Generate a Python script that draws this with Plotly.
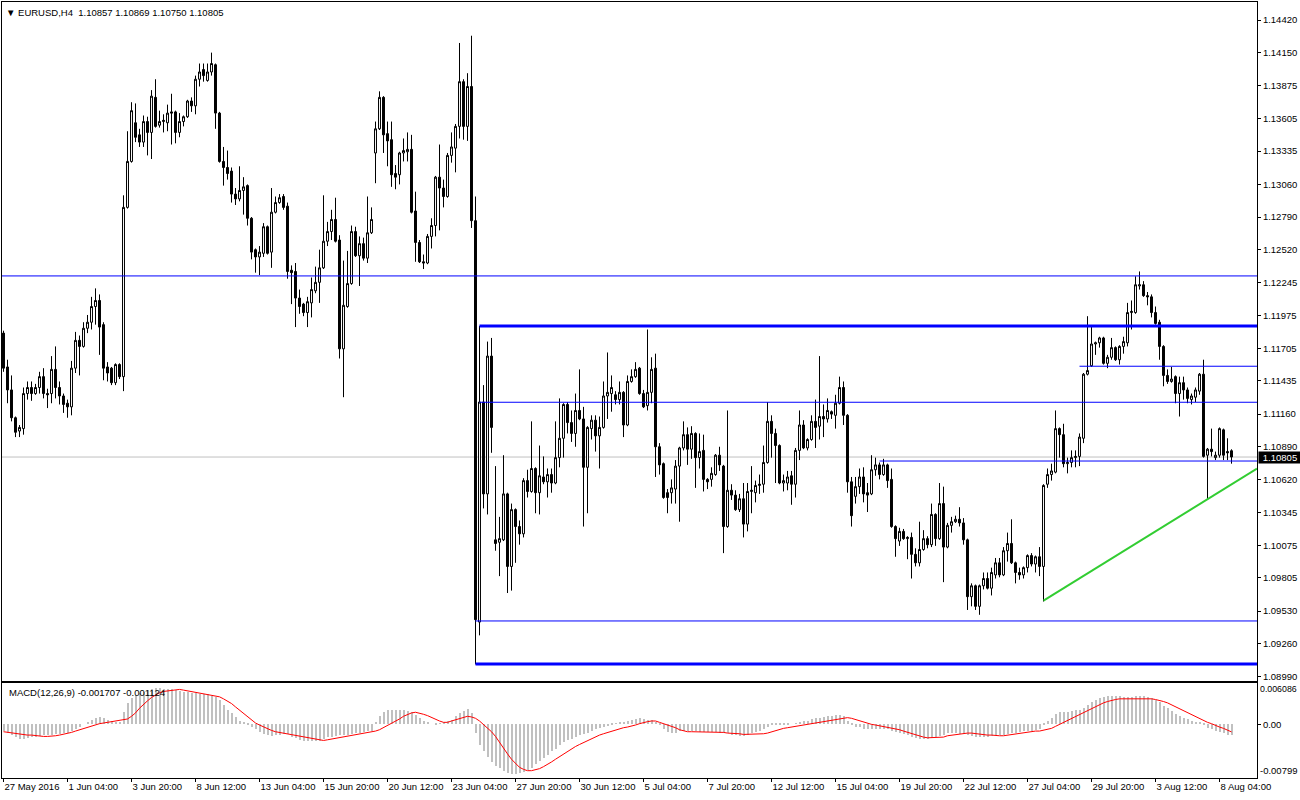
import plotly.graph_objects as go

# ---------------- data (EURUSD, H4) ----------------
opens = [
    1.1183, 1.1155, 1.1136, 1.1113, 1.1102, 1.1104, 1.1133, 1.1138, 1.1133, 1.1138,
    1.1147, 1.1133, 1.1133, 1.1153, 1.1138, 1.1131, 1.1125, 1.1122, 1.1154, 1.1177,
    1.1172, 1.1187, 1.1192, 1.1205, 1.1210, 1.1190, 1.1155, 1.1154, 1.1142, 1.1157,
    1.1147, 1.1287, 1.1325, 1.1357, 1.1347, 1.1341, 1.1358, 1.1349, 1.1378, 1.1355,
    1.1358, 1.1357, 1.1366, 1.1366, 1.1349, 1.1358, 1.1362, 1.1375, 1.1371, 1.1393,
    1.1401, 1.1392, 1.1399, 1.1405, 1.1365, 1.1325, 1.1320, 1.1317, 1.1298, 1.1294,
    1.1301, 1.1305, 1.1278, 1.1252, 1.1246, 1.1249, 1.1271, 1.1250, 1.1283, 1.1291,
    1.1296, 1.1288, 1.1235, 1.1234, 1.1212, 1.1207, 1.1200, 1.1208, 1.1218, 1.1225,
    1.1237, 1.1259, 1.1267, 1.1277, 1.1260, 1.1170, 1.1205, 1.1224, 1.1267, 1.1247,
    1.1257, 1.1245, 1.1266, 1.1332, 1.1352, 1.1378, 1.1348, 1.1343, 1.1315, 1.1314,
    1.1332, 1.1333, 1.1335, 1.1284, 1.1258, 1.1242, 1.1241, 1.1263, 1.1272, 1.1312,
    1.1303, 1.1296, 1.1330, 1.1336, 1.1354, 1.1391, 1.1354, 1.1387, 1.1276, 1.0944,
    1.1126, 1.1050, 1.1164, 1.1012, 1.1010, 1.1012, 1.1050, 1.0990, 1.1037, 1.1023,
    1.1017, 1.1061, 1.1052, 1.1071, 1.1051, 1.1064, 1.1060, 1.1066, 1.1059, 1.1080,
    1.1096, 1.1124, 1.1109, 1.1100, 1.1119, 1.1112, 1.1072, 1.1104, 1.1111, 1.1098,
    1.1105, 1.1131, 1.1133, 1.1132, 1.1128, 1.1134, 1.1107, 1.1143, 1.1147, 1.1154,
    1.1133, 1.1123, 1.1134, 1.1154, 1.1089, 1.1075, 1.1051, 1.1051, 1.1054, 1.1073,
    1.1088, 1.1099, 1.1087, 1.1100, 1.1080, 1.1086, 1.1062, 1.1062, 1.1066, 1.1082,
    1.1073, 1.1023, 1.1053, 1.1049, 1.1037, 1.1046, 1.1025, 1.1052, 1.1051, 1.1057,
    1.1058, 1.1076, 1.1110, 1.1100, 1.1090, 1.1059, 1.1059, 1.1065, 1.1058, 1.1086,
    1.1107, 1.1088, 1.1095, 1.1110, 1.1106, 1.1114, 1.1112, 1.1118, 1.1115, 1.1125,
    1.1138, 1.1115, 1.1060, 1.1048, 1.1056, 1.1064, 1.1051, 1.1050, 1.1070, 1.1074,
    1.1066, 1.1074, 1.1062, 1.1023, 1.1011, 1.1019, 1.1013, 1.1014, 1.1000, 1.0993,
    1.1004, 1.1013, 1.1008, 1.1033, 1.1013, 1.1042, 1.1006, 1.1024, 1.1027, 1.1029,
    1.1026, 1.1012, 1.0965, 1.0974, 1.0957, 1.0974, 1.0980, 1.0972, 1.0983, 1.0993,
    1.0983, 1.1003, 1.1009, 1.0993, 1.0985, 1.0983, 1.0989, 1.0999, 1.0992, 1.0998,
    1.0990, 1.1058, 1.1066, 1.1068, 1.1104, 1.1099, 1.1075, 1.1076, 1.1080, 1.1081,
    1.1096, 1.1149, 1.1156, 1.1174, 1.1175, 1.1179, 1.1158, 1.1163, 1.1171, 1.1161,
    1.1172, 1.1175, 1.1200, 1.1200, 1.1222, 1.1223, 1.1214, 1.1213, 1.1200, 1.1192,
    1.1172, 1.1148, 1.1143, 1.1147, 1.1133, 1.1142, 1.1136, 1.1128, 1.1130, 1.1135,
    1.1149, 1.1082, 1.1087, 1.1080, 1.1082, 1.1103, 1.1085, 1.10857,
]
highs = [
    1.1185, 1.1161, 1.1148, 1.1114, 1.1107, 1.1138, 1.1143, 1.1143, 1.1141, 1.1151,
    1.1154, 1.1137, 1.1164, 1.1172, 1.1143, 1.1133, 1.1128, 1.1160, 1.1184, 1.1181,
    1.1192, 1.1198, 1.1213, 1.1220, 1.1215, 1.1192, 1.1159, 1.1155, 1.1158, 1.1158,
    1.1297, 1.1350, 1.1374, 1.1373, 1.1352, 1.1363, 1.1362, 1.1384, 1.1393, 1.1367,
    1.1364, 1.1372, 1.1381, 1.1367, 1.1365, 1.1363, 1.1376, 1.1378, 1.1396, 1.1406,
    1.1406, 1.1406, 1.1415, 1.1406, 1.1366, 1.1337, 1.1334, 1.1320, 1.1303, 1.1321,
    1.1312, 1.1306, 1.1279, 1.1253, 1.1255, 1.1274, 1.1272, 1.1303, 1.1296, 1.1298,
    1.1298, 1.1291, 1.1239, 1.1241, 1.1219, 1.1208, 1.1213, 1.1229, 1.1238, 1.1252,
    1.1297, 1.1275, 1.1285, 1.1295, 1.1264, 1.1243, 1.1251, 1.1272, 1.1271, 1.1263,
    1.1262, 1.1296, 1.1287, 1.1358, 1.1383, 1.1379, 1.1358, 1.1358, 1.1322, 1.1333,
    1.1344, 1.1349, 1.1347, 1.1300, 1.1260, 1.1248, 1.1265, 1.1278, 1.1313, 1.1339,
    1.1310, 1.1332, 1.1349, 1.1356, 1.1423, 1.1393, 1.1398, 1.1429, 1.1296, 1.1189,
    1.1140, 1.1176, 1.1179, 1.1073, 1.1031, 1.1082, 1.1051, 1.1042, 1.1038, 1.1028,
    1.1063, 1.1070, 1.1110, 1.1072, 1.1090, 1.1081, 1.1071, 1.1071, 1.1110, 1.1129,
    1.1125, 1.1126, 1.1119, 1.1133, 1.1153, 1.1122, 1.1106, 1.1115, 1.1115, 1.1114,
    1.1143, 1.1167, 1.1148, 1.1135, 1.1143, 1.1135, 1.1148, 1.1153, 1.1159, 1.1155,
    1.1136, 1.1186, 1.1163, 1.1166, 1.1092, 1.1076, 1.1054, 1.1062, 1.1078, 1.1089,
    1.1110, 1.1105, 1.1106, 1.1101, 1.1100, 1.1099, 1.1063, 1.1072, 1.1083, 1.1089,
    1.1074, 1.1119, 1.1058, 1.1053, 1.1050, 1.1059, 1.1059, 1.1073, 1.1061, 1.1066,
    1.1090, 1.1126, 1.1115, 1.1104, 1.1091, 1.1066, 1.1069, 1.1069, 1.1088, 1.1119,
    1.1111, 1.1096, 1.1115, 1.1128, 1.1164, 1.1124, 1.1129, 1.1119, 1.1132, 1.1147,
    1.1143, 1.1116, 1.1064, 1.1064, 1.1071, 1.1072, 1.1059, 1.1082, 1.1080, 1.1076,
    1.1079, 1.1075, 1.1071, 1.1024, 1.1022, 1.1021, 1.1015, 1.1018, 1.1005, 1.1027,
    1.1020, 1.1015, 1.1042, 1.1034, 1.1059, 1.1056, 1.1026, 1.1031, 1.1032, 1.1039,
    1.1030, 1.1013, 1.0976, 1.0975, 1.0975, 1.0985, 1.0985, 1.0989, 1.0997, 1.0997,
    1.1006, 1.1018, 1.1029, 1.0994, 1.0989, 1.0990, 1.1000, 1.1001, 1.0999, 1.1006,
    1.1058, 1.1071, 1.1075, 1.1119, 1.1105, 1.1108, 1.1080, 1.1086, 1.1086, 1.1100,
    1.1150, 1.1197, 1.1188, 1.1176, 1.1180, 1.1180, 1.1165, 1.1179, 1.1172, 1.1173,
    1.1180, 1.1208, 1.1210, 1.1230, 1.1234, 1.1226, 1.1217, 1.1215, 1.1205, 1.1194,
    1.1173, 1.1153, 1.1155, 1.1148, 1.1147, 1.1147, 1.1138, 1.1133, 1.1138, 1.1150,
    1.1161, 1.1088, 1.1104, 1.1085, 1.1105, 1.1104, 1.1096, 1.10869,
]
lows = [
    1.1151, 1.1125, 1.1110, 1.1097, 1.1097, 1.1099, 1.1128, 1.1127, 1.1132, 1.1133,
    1.1129, 1.1121, 1.1125, 1.1129, 1.1124, 1.1117, 1.1113, 1.1115, 1.1150, 1.1148,
    1.1171, 1.1183, 1.1186, 1.1190, 1.1165, 1.1144, 1.1143, 1.1140, 1.1140, 1.1145,
    1.1135, 1.1286, 1.1324, 1.1341, 1.1337, 1.1337, 1.1330, 1.1327, 1.1353, 1.1353,
    1.1349, 1.1350, 1.1339, 1.1340, 1.1345, 1.1354, 1.1361, 1.1366, 1.1364, 1.1387,
    1.1391, 1.1391, 1.1396, 1.1352, 1.1324, 1.1305, 1.1310, 1.1291, 1.1289, 1.1292,
    1.1281, 1.1272, 1.1244, 1.1233, 1.1231, 1.1246, 1.1248, 1.1237, 1.1282, 1.1290,
    1.1285, 1.1228, 1.1207, 1.1188, 1.1199, 1.1197, 1.1188, 1.1196, 1.1216, 1.1208,
    1.1236, 1.1255, 1.1260, 1.1258, 1.1162, 1.1130, 1.1204, 1.1223, 1.1246, 1.1222,
    1.1243, 1.1241, 1.1265, 1.1307, 1.1351, 1.1332, 1.1321, 1.1304, 1.1302, 1.1306,
    1.1325, 1.1325, 1.1282, 1.1242, 1.1241, 1.1236, 1.1240, 1.1253, 1.1263, 1.1268,
    1.1287, 1.1295, 1.1324, 1.1316, 1.1344, 1.1343, 1.1342, 1.1270, 1.0909, 1.0933,
    1.1038, 1.1033, 1.1084, 1.1003, 1.0982, 1.1011, 1.0968, 1.0970, 1.0993, 1.1008,
    1.1014, 1.1047, 1.1051, 1.1034, 1.1033, 1.1058, 1.1047, 1.1051, 1.1058, 1.1072,
    1.1080, 1.1100, 1.1093, 1.1089, 1.1111, 1.1023, 1.1034, 1.1095, 1.1085, 1.1071,
    1.1104, 1.1112, 1.1118, 1.1124, 1.1124, 1.1097, 1.1106, 1.1142, 1.1146, 1.1132,
    1.1121, 1.1119, 1.1125, 1.1064, 1.1066, 1.1046, 1.1034, 1.1042, 1.1042, 1.1027,
    1.1086, 1.1074, 1.1079, 1.1055, 1.1071, 1.1052, 1.1054, 1.1056, 1.1065, 1.1069,
    1.1001, 1.1022, 1.1045, 1.1036, 1.1035, 1.1014, 1.1019, 1.1034, 1.1043, 1.1050,
    1.1051, 1.1075, 1.1080, 1.1059, 1.1058, 1.1052, 1.1053, 1.1041, 1.1047, 1.1078,
    1.1087, 1.1086, 1.1094, 1.1088, 1.1095, 1.1097, 1.1109, 1.1112, 1.1104, 1.1124,
    1.1107, 1.1051, 1.1023, 1.1042, 1.1050, 1.1043, 1.1035, 1.1049, 1.1065, 1.1062,
    1.1065, 1.1055, 1.1022, 1.0998, 1.1007, 1.1012, 1.0996, 1.0980, 1.0990, 1.0990,
    1.1003, 1.1005, 1.1006, 1.1007, 1.1012, 1.0977, 1.1005, 1.1018, 1.1026, 1.1023,
    1.1008, 1.0954, 1.0957, 1.0954, 1.0950, 1.0971, 1.0971, 1.0966, 1.0980, 1.0981,
    1.0982, 1.0994, 1.0992, 1.0976, 1.0979, 1.0980, 1.0985, 1.0990, 1.0985, 1.0982,
    1.0961, 1.1055, 1.1061, 1.1067, 1.1080, 1.1072, 1.1067, 1.1072, 1.1072, 1.1073,
    1.1092, 1.1148, 1.1155, 1.1165, 1.1171, 1.1157, 1.1154, 1.1161, 1.1160, 1.1157,
    1.1166, 1.1172, 1.1186, 1.1199, 1.1219, 1.1213, 1.1206, 1.1196, 1.1190, 1.1161,
    1.1139, 1.1141, 1.1142, 1.1125, 1.1114, 1.1128, 1.1125, 1.1124, 1.1126, 1.1132,
    1.1080, 1.1045, 1.1081, 1.1078, 1.1080, 1.1078, 1.1078, 1.10750,
]
closes = [
    1.1154, 1.1136, 1.1113, 1.1101, 1.1105, 1.1133, 1.1138, 1.1133, 1.1138, 1.1147,
    1.1133, 1.1132, 1.1153, 1.1138, 1.1131, 1.1124, 1.1122, 1.1154, 1.1177, 1.1172,
    1.1187, 1.1192, 1.1205, 1.1210, 1.1188, 1.1154, 1.1150, 1.1142, 1.1157, 1.1147,
    1.1287, 1.1325, 1.1367, 1.1345, 1.1341, 1.1358, 1.1349, 1.1379, 1.1354, 1.1358,
    1.1359, 1.1365, 1.1365, 1.1349, 1.1358, 1.1362, 1.1375, 1.1371, 1.1393, 1.1399,
    1.1396, 1.1399, 1.1406, 1.1365, 1.1325, 1.1320, 1.1315, 1.1298, 1.1294, 1.1301,
    1.1304, 1.1278, 1.1250, 1.1246, 1.1250, 1.1271, 1.1249, 1.1283, 1.1291, 1.1295,
    1.1287, 1.1234, 1.1233, 1.1212, 1.1205, 1.1200, 1.1209, 1.1219, 1.1225, 1.1237,
    1.1259, 1.1267, 1.1277, 1.1259, 1.1170, 1.1206, 1.1224, 1.1267, 1.1247, 1.1257,
    1.1245, 1.1266, 1.1277, 1.1352, 1.1378, 1.1347, 1.1342, 1.1314, 1.1312, 1.1332,
    1.1334, 1.1335, 1.1283, 1.1258, 1.1242, 1.1241, 1.1263, 1.1272, 1.1312, 1.1303,
    1.1296, 1.1330, 1.1337, 1.1354, 1.1391, 1.1354, 1.1387, 1.1276, 1.0946, 1.1126,
    1.1050, 1.1164, 1.1105, 1.1009, 1.1013, 1.1050, 1.0990, 1.1037, 1.1023, 1.1017,
    1.1061, 1.1052, 1.1071, 1.1051, 1.1065, 1.1060, 1.1066, 1.1059, 1.1080, 1.1096,
    1.1124, 1.1109, 1.1100, 1.1119, 1.1112, 1.1072, 1.1105, 1.1111, 1.1098, 1.1105,
    1.1131, 1.1134, 1.1138, 1.1128, 1.1134, 1.1107, 1.1143, 1.1147, 1.1153, 1.1133,
    1.1122, 1.1134, 1.1153, 1.1089, 1.1074, 1.1047, 1.1047, 1.1055, 1.1073, 1.1088,
    1.1099, 1.1087, 1.1100, 1.1080, 1.1085, 1.1062, 1.1060, 1.1067, 1.1082, 1.1074,
    1.1023, 1.1053, 1.1049, 1.1037, 1.1046, 1.1025, 1.1052, 1.1053, 1.1057, 1.1058,
    1.1076, 1.1110, 1.1100, 1.1090, 1.1059, 1.1061, 1.1064, 1.1058, 1.1086, 1.1107,
    1.1088, 1.1095, 1.1110, 1.1105, 1.1114, 1.1112, 1.1119, 1.1116, 1.1125, 1.1138,
    1.1115, 1.1060, 1.1032, 1.1056, 1.1064, 1.1050, 1.1049, 1.1070, 1.1074, 1.1066,
    1.1074, 1.1061, 1.1023, 1.1013, 1.1019, 1.1013, 1.1014, 1.1000, 1.0993, 1.1004,
    1.1013, 1.1008, 1.1033, 1.1013, 1.1042, 1.1006, 1.1024, 1.1027, 1.1029, 1.1026,
    1.1012, 1.0965, 1.0974, 1.0957, 1.0974, 1.0980, 1.0972, 1.0985, 1.0993, 1.0983,
    1.1003, 1.1009, 1.0993, 1.0985, 1.0983, 1.0989, 1.0999, 1.0992, 1.0998, 1.0990,
    1.1057, 1.1066, 1.1069, 1.1104, 1.1099, 1.1075, 1.1076, 1.1080, 1.1081, 1.1097,
    1.1149, 1.1152, 1.1174, 1.1175, 1.1179, 1.1158, 1.1163, 1.1171, 1.1161, 1.1172,
    1.1176, 1.1200, 1.1201, 1.1223, 1.1223, 1.1214, 1.1213, 1.1200, 1.1191, 1.1172,
    1.1148, 1.1143, 1.1145, 1.1133, 1.1142, 1.1136, 1.1129, 1.1131, 1.1136, 1.1149,
    1.1081, 1.1087, 1.1085, 1.1082, 1.1104, 1.1082, 1.1084, 1.10805,
]

# MACD(12,26,9): main line (histogram) and signal line, read from the sub-window
macd_main = [
    -0.0011, -0.0014, -0.0017, -0.0020, -0.0022, -0.0022, -0.0021, -0.0020, -0.0019, -0.0018,
    -0.0017, -0.0017, -0.0016, -0.0015, -0.0015, -0.0014, -0.0013, -0.0011, -0.0008, -0.0004,
    0.0000, 0.0003, 0.0006, 0.0008, 0.0010, 0.0008, 0.0006, 0.0004, 0.0003, 0.0002,
    0.0017, 0.0031, 0.0039, 0.0043, 0.0046, 0.0048, 0.0050, 0.0052, 0.0053, 0.0053,
    0.0052, 0.0052, 0.0052, 0.0051, 0.0049, 0.0048, 0.0047, 0.0046, 0.0046, 0.0045,
    0.0045, 0.0044, 0.0042, 0.0040, 0.0036, 0.0028, 0.0021, 0.0016, 0.0010, 0.0005,
    0.0003, -0.0002, -0.0005, -0.0008, -0.0012, -0.0015, -0.0016, -0.0018, -0.0017, -0.0016,
    -0.0015, -0.0015, -0.0019, -0.0021, -0.0024, -0.0026, -0.0026, -0.0026, -0.0026, -0.0025,
    -0.0023, -0.0020, -0.0019, -0.0018, -0.0017, -0.0016, -0.0016, -0.0015, -0.0014, -0.0013,
    -0.0012, -0.0011, -0.0010, 0.0002, 0.0012, 0.0017, 0.0020, 0.0021, 0.0020, 0.0020,
    0.0020, 0.0019, 0.0017, 0.0013, 0.0008, 0.0004, 0.0002, 0.0000, -0.0001, 0.0001,
    0.0002, 0.0004, 0.0006, 0.0011, 0.0016, 0.0019, 0.0022, 0.0016, -0.0014, -0.0032,
    -0.0040, -0.0050, -0.0057, -0.0062, -0.0066, -0.0070, -0.0073, -0.0074, -0.0074, -0.0073,
    -0.0071, -0.0069, -0.0065, -0.0060, -0.0056, -0.0051, -0.0046, -0.0041, -0.0037, -0.0031,
    -0.0027, -0.0024, -0.0022, -0.0019, -0.0017, -0.0015, -0.0013, -0.0010, -0.0008, -0.0006,
    -0.0005, -0.0003, -0.0001, 0.0001, 0.0002, 0.0003, 0.0005, 0.0006, 0.0007, 0.0008,
    0.0007, 0.0006, 0.0006, 0.0003, -0.0002, -0.0007, -0.0012, -0.0013, -0.0013, -0.0011,
    -0.0010, -0.0010, -0.0011, -0.0011, -0.0012, -0.0012, -0.0012, -0.0012, -0.0012, -0.0013,
    -0.0014, -0.0014, -0.0016, -0.0017, -0.0018, -0.0018, -0.0016, -0.0014, -0.0012, -0.0010,
    -0.0008, -0.0005, -0.0002, -0.0002, -0.0002, -0.0001, -0.0001, 0.0000, 0.0001, 0.0002,
    0.0004, 0.0005, 0.0007, 0.0008, 0.0009, 0.0010, 0.0011, 0.0012, 0.0013, 0.0013,
    0.0012, 0.0005, -0.0002, -0.0004, -0.0005, -0.0007, -0.0008, -0.0008, -0.0008, -0.0008,
    -0.0008, -0.0008, -0.0010, -0.0012, -0.0013, -0.0015, -0.0017, -0.0019, -0.0021, -0.0022,
    -0.0022, -0.0022, -0.0021, -0.0020, -0.0018, -0.0016, -0.0014, -0.0014, -0.0014, -0.0015,
    -0.0015, -0.0016, -0.0018, -0.0019, -0.0020, -0.0020, -0.0019, -0.0018, -0.0017, -0.0017,
    -0.0016, -0.0015, -0.0014, -0.0013, -0.0012, -0.0011, -0.0011, -0.0010, -0.0009, -0.0008,
    -0.0002, 0.0004, 0.0009, 0.0014, 0.0017, 0.0018, 0.0018, 0.0019, 0.0020, 0.0021,
    0.0024, 0.0028, 0.0032, 0.0036, 0.0039, 0.0040, 0.0041, 0.0041, 0.0041, 0.0041,
    0.0040, 0.0040, 0.0040, 0.0041, 0.0042, 0.0041, 0.0040, 0.0038, 0.0036, 0.0032,
    0.0027, 0.0023, 0.0019, 0.0015, 0.0011, 0.0009, 0.0007, 0.0005, 0.0003, 0.0002,
    -0.0002, -0.0006, -0.0008, -0.0010, -0.0012, -0.0014, -0.0016, -0.001707,
]
macd_signal = [
    -0.0011, -0.0012, -0.0013, -0.0014, -0.0015, -0.0015, -0.0016, -0.0016, -0.0017, -0.0018,
    -0.0018, -0.0018, -0.0018, -0.0017, -0.0016, -0.0015, -0.0014, -0.0012, -0.0010, -0.0008,
    -0.0006, -0.0004, -0.0002, 0.0000, 0.0001, 0.0002, 0.0003, 0.0004, 0.0004, 0.0005,
    0.0006, 0.0008, 0.0012, 0.0017, 0.0024, 0.0030, 0.0035, 0.0040, 0.0044, 0.0047,
    0.0049, 0.0050, 0.0051, 0.0052, 0.0052, 0.0051, 0.0050, 0.0048, 0.0047, 0.0046,
    0.0045, 0.0044, 0.0044, 0.0043, 0.0041, 0.0038, 0.0035, 0.0031, 0.0026, 0.0021,
    0.0016, 0.0011, 0.0006, 0.0002, -0.0001, -0.0004, -0.0006, -0.0009, -0.0011, -0.0012,
    -0.0014, -0.0015, -0.0015, -0.0016, -0.0017, -0.0018, -0.0019, -0.0021, -0.0022, -0.0023,
    -0.0024, -0.0023, -0.0022, -0.0020, -0.0019, -0.0018, -0.0017, -0.0016, -0.0015, -0.0014,
    -0.0013, -0.0012, -0.0011, -0.0010, -0.0008, -0.0005, -0.0002, 0.0002, 0.0005, 0.0008,
    0.0012, 0.0015, 0.0017, 0.0018, 0.0017, 0.0015, 0.0013, 0.0010, 0.0007, 0.0005,
    0.0003, 0.0003, 0.0005, 0.0007, 0.0009, 0.0011, 0.0012, 0.0011, 0.0009, 0.0005,
    0.0000, -0.0005, -0.0011, -0.0018, -0.0027, -0.0036, -0.0044, -0.0052, -0.0058, -0.0064,
    -0.0067, -0.0069, -0.0069, -0.0068, -0.0066, -0.0063, -0.0060, -0.0056, -0.0052, -0.0048,
    -0.0044, -0.0040, -0.0037, -0.0033, -0.0030, -0.0027, -0.0024, -0.0021, -0.0018, -0.0016,
    -0.0014, -0.0012, -0.0010, -0.0008, -0.0007, -0.0005, -0.0004, -0.0003, -0.0001, 0.0001,
    0.0003, 0.0004, 0.0005, 0.0005, 0.0003, 0.0001, 0.0000, -0.0002, -0.0005, -0.0008,
    -0.0010, -0.0011, -0.0011, -0.0011, -0.0011, -0.0012, -0.0012, -0.0012, -0.0012, -0.0012,
    -0.0012, -0.0013, -0.0013, -0.0014, -0.0014, -0.0015, -0.0015, -0.0015, -0.0015, -0.0014,
    -0.0014, -0.0013, -0.0011, -0.0010, -0.0008, -0.0006, -0.0005, -0.0004, -0.0003, -0.0002,
    -0.0001, 0.0000, 0.0001, 0.0002, 0.0003, 0.0004, 0.0005, 0.0006, 0.0007, 0.0009,
    0.0010, 0.0010, 0.0009, 0.0007, 0.0005, 0.0003, 0.0001, 0.0000, -0.0001, -0.0002,
    -0.0003, -0.0005, -0.0006, -0.0007, -0.0008, -0.0010, -0.0012, -0.0014, -0.0016, -0.0018,
    -0.0019, -0.0020, -0.0020, -0.0020, -0.0020, -0.0019, -0.0017, -0.0016, -0.0015, -0.0014,
    -0.0013, -0.0013, -0.0013, -0.0014, -0.0015, -0.0015, -0.0016, -0.0016, -0.0017, -0.0017,
    -0.0017, -0.0016, -0.0015, -0.0014, -0.0013, -0.0012, -0.0012, -0.0011, -0.0010, -0.0010,
    -0.0009, -0.0008, -0.0006, -0.0003, 0.0000, 0.0003, 0.0006, 0.0009, 0.0012, 0.0015,
    0.0018, 0.0021, 0.0024, 0.0027, 0.0030, 0.0032, 0.0034, 0.0036, 0.0037, 0.0038,
    0.0038, 0.0038, 0.0039, 0.0039, 0.0039, 0.0039, 0.0038, 0.0038, 0.0037, 0.0036,
    0.0034, 0.0032, 0.0029, 0.0027, 0.0024, 0.0021, 0.0018, 0.0015, 0.0012, 0.0009,
    0.0006, 0.0003, 0.0001, -0.0002, -0.0004, -0.0006, -0.0009, -0.001124,
]

# time axis labels (bar index -> label)
time_tick_bars = [0, 16, 32, 48, 64, 80, 96, 112, 128, 144,
                  160, 176, 192, 208, 224, 240, 256, 272, 288, 304]
time_tick_labels = ["27 May 2016", "1 Jun 04:00", "3 Jun 20:00", "8 Jun 12:00",
                    "13 Jun 04:00", "15 Jun 20:00", "20 Jun 12:00", "23 Jun 04:00",
                    "27 Jun 20:00", "30 Jun 12:00", "5 Jul 04:00", "7 Jul 20:00",
                    "12 Jul 12:00", "15 Jul 04:00", "19 Jul 20:00", "22 Jul 12:00",
                    "27 Jul 04:00", "29 Jul 20:00", "3 Aug 12:00", "8 Aug 04:00"]

price_ticks = [1.14420, 1.14150, 1.13875, 1.13605, 1.13335, 1.13060, 1.12790,
               1.12520, 1.12245, 1.11975, 1.11705, 1.11435, 1.11160, 1.10890,
               1.10620, 1.10345, 1.10075, 1.09805, 1.09530, 1.09260, 1.08990]
price_tick_labels = ["1.14420", "1.14150", "1.13875", "1.13605", "1.13335", "1.13060",
                     "1.12790", "1.12520", "1.12245", "1.11975", "1.11705", "1.11435",
                     "1.11160", "1.10890", "1.10620", "1.10345", "1.10075", "1.09805",
                     "1.09530", "1.09260", "1.08990"]

# horizontal levels drawn on chart: (start bar or None for full width, price)
level_start_bars = [None, 119, 269, 119, 219, 118, 118]
level_prices = [1.12303, 1.11889, 1.11556, 1.11258, 1.10772, 1.09449, 1.09093]
level_widths = [1, 3, 1, 1, 1, 1, 3]

# trend line anchors (bar index, price)
trend_bars = [260, 301]
trend_prices = [1.09617, 1.10456]

symbol = "EURUSD,H4"
macd_name = "MACD(12,26,9)"

# ---------------- figure ----------------
bars = list(range(len(closes)))
x_range = [-0.375, 313.375]
y_range = [1.089485, 1.145689]
macd_range = [-0.00799, 0.006086]
FONT = "Liberation Sans, Arial, sans-serif"
FS = 9.5

fig = go.Figure()
fig.add_trace(go.Candlestick(
    x=bars, open=opens, high=highs, low=lows, close=closes,
    increasing=dict(line=dict(color="black", width=1), fillcolor="white"),
    decreasing=dict(line=dict(color="black", width=1), fillcolor="black"),
    whiskerwidth=0, hoverinfo="none", showlegend=False,
    xaxis="x", yaxis="y",
))
fig.add_trace(go.Bar(
    x=bars, y=macd_main, width=0.5,
    marker=dict(color="#C0C0C0", line=dict(width=0)),
    hoverinfo="none", showlegend=False, xaxis="x2", yaxis="y2",
))
fig.add_trace(go.Scatter(
    x=bars, y=macd_signal, mode="lines",
    line=dict(color="#FF0000", width=1),
    hoverinfo="none", showlegend=False, xaxis="x2", yaxis="y2",
))

shapes = []
for sb, pr, w in zip(level_start_bars, level_prices, level_widths):
    shapes.append(dict(type="line", xref="x", yref="y",
                       x0=x_range[0] if sb is None else sb, x1=x_range[1],
                       y0=pr, y1=pr, line=dict(color="#0000FF", width=w), layer="above"))
# bid line
shapes.append(dict(type="line", xref="x", yref="y", x0=x_range[0], x1=x_range[1],
                   y0=closes[-1], y1=closes[-1], line=dict(color="#C0C0C0", width=1),
                   layer="below"))
# trend line (ray extended to the right edge)
slope = (trend_prices[1] - trend_prices[0]) / (trend_bars[1] - trend_bars[0])
shapes.append(dict(type="line", xref="x", yref="y",
                   x0=trend_bars[0], y0=trend_prices[0],
                   x1=x_range[1], y1=trend_prices[0] + slope * (x_range[1] - trend_bars[0]),
                   line=dict(color="#32CD32", width=2), layer="above"))

annotations = [
    dict(text="\u25bc " + symbol + "  " + " ".join(f"{v:.5f}" for v in
         [opens[-1], highs[-1], lows[-1], closes[-1]]),
         xref="paper", yref="paper", x=0, y=1, xanchor="left", yanchor="top",
         xshift=2, yshift=-3, showarrow=False, font=dict(size=FS, color="black", family=FONT)),
    dict(text=f"{macd_name} {macd_main[-1]:.6f} {macd_signal[-1]:.6f}",
         xref="paper", yref="y2 domain", x=0, y=1, xanchor="left", yanchor="top",
         xshift=5, yshift=-2, showarrow=False, font=dict(size=FS, color="black", family=FONT)),
    dict(text=f"{macd_range[1]:.6f}", xref="paper", yref="y2", x=1, y=macd_range[1],
         xanchor="left", yanchor="top", xshift=1, yshift=1, showarrow=False,
         font=dict(size=8.8, color="black", family=FONT)),
    dict(text=f"{macd_range[0]:.5f}", xref="paper", yref="y2", x=1, y=macd_range[0],
         xanchor="left", yanchor="bottom", xshift=1, showarrow=False,
         font=dict(size=FS, color="black", family=FONT)),
    dict(text=f"{closes[-1]:.5f}", xref="paper", yref="y", x=1, y=closes[-1],
         xanchor="left", yanchor="middle", xshift=1, showarrow=False,
         bgcolor="black", width=42, height=11, borderpad=0,
         font=dict(size=FS, color="white", family=FONT)),
]

axis_common = dict(showline=True, mirror=True, linecolor="black", linewidth=1,
                   showgrid=False, zeroline=False, automargin=False)

fig.update_layout(
    width=1300, height=800,
    margin=dict(l=2, r=43, t=2, b=22, autoexpand=False),
    paper_bgcolor="white", plot_bgcolor="white",
    font=dict(family=FONT, size=FS, color="black"),
    showlegend=False,
    bargap=0,
    xaxis=dict(domain=[0, 1], range=x_range, anchor="y", showticklabels=False,
               ticks="", rangeslider=dict(visible=False), **axis_common),
    yaxis=dict(domain=[0.1244, 1], range=y_range, anchor="x", side="right",
               tickvals=price_ticks, ticktext=price_tick_labels, ticks="outside",
               ticklen=3, tickcolor="black", tickfont=dict(size=FS),
               **axis_common),
    xaxis2=dict(domain=[0, 1], range=x_range, anchor="y2",
                tickvals=time_tick_bars, ticktext=time_tick_labels,
                ticks="outside", ticklen=3, tickcolor="black", tickangle=0,
                ticklabelposition="outside right", tickfont=dict(size=FS),
                **axis_common),
    yaxis2=dict(domain=[0, 0.1218], range=macd_range, anchor="x2", side="right",
                tickvals=[0], ticktext=["0.00"], ticks="outside", ticklen=3,
                tickcolor="black", tickfont=dict(size=FS), **axis_common),
    shapes=shapes,
    annotations=annotations,
)

fig.write_html("out.html", config={"displayModeBar": False},
               post_script="document.body.style.margin='0';")
